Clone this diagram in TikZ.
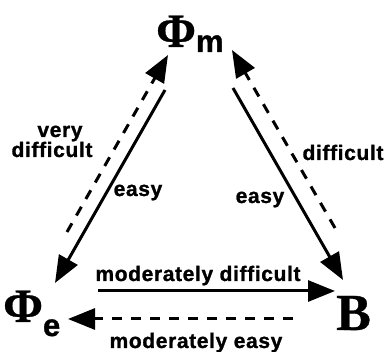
\documentclass[tikz,border=0pt]{standalone}
\usepackage{fontspec}
\setmainfont[BoldFeatures={FakeBold=0.6}]{Liberation Serif}
\newfontfamily\lblfont[LetterSpace=3,Ligatures=NoCommon,BoldFeatures={FakeBold=1.2}]{Liberation Sans}
\newfontfamily\subfnt[BoldFeatures={FakeBold=1.2}]{Liberation Sans}
\usetikzlibrary{arrows.meta}
\begin{document}
\begin{tikzpicture}[x=1pt,y=-1pt,
  lbl/.style={font=\lblfont\bfseries\fontsize{21}{22}\selectfont, inner sep=0pt, anchor=base},
  big/.style={font=\bfseries\fontsize{48}{48}\selectfont, inner sep=0pt, anchor=base west},
  conn/.style={line width=3pt, -{Triangle[length=27pt,width=21pt]}},
  dsh/.style={conn, dash pattern=on 10pt off 9pt},
]
\useasboundingbox (0,0) rectangle (391,352);
% main nodes
\node[big] (phim) at (156,47) {Φ\raisebox{-5pt}{\subfnt\bfseries\fontsize{31}{31}\selectfont m}};
\node[big] (phie) at (3,322) {Φ\raisebox{-14pt}{\subfnt\bfseries\fontsize{31}{31}\selectfont e}};
\node[big, font=\bfseries\fontsize{52}{52}\selectfont] (B) at (336,330) {B};
% connector end points
\coordinate (l1s) at (165,90);  \coordinate (l1e) at (55,283);
\coordinate (l2s) at (67,232);  \coordinate (l2e) at (168,55);
\coordinate (r1s) at (233,88);  \coordinate (r1e) at (343,280);
\coordinate (r2s) at (335,228); \coordinate (r2e) at (232,50);
\coordinate (b1s) at (98,291);  \coordinate (b1e) at (335,291);
\coordinate (b2s) at (293,319); \coordinate (b2e) at (68,319);
% connectors
\draw[conn] (l1s) -- (l1e);
\draw[dsh]  (l2s) -- (l2e);
\draw[conn] (r1s) -- (r1e);
\draw[dsh]  (r2s) -- (r2e);
\draw[conn] (b1s) -- (b1e);
\draw[dsh]  (b2s) -- (b2e);
% labels
\node[lbl] (t1) at (60,137) {very};
\node[lbl] (t2) at (52,157) {difficult};
\node[lbl] (t3) at (138,196) {easy};
\node[lbl] (t4) at (343,160) {difficult};
\node[lbl] (t5) at (260,203) {easy};
\node[lbl] (t6) at (198,281) {moderately difficult};
\node[lbl] (t7) at (196,348) {moderately easy};
\end{tikzpicture}
\end{document}
